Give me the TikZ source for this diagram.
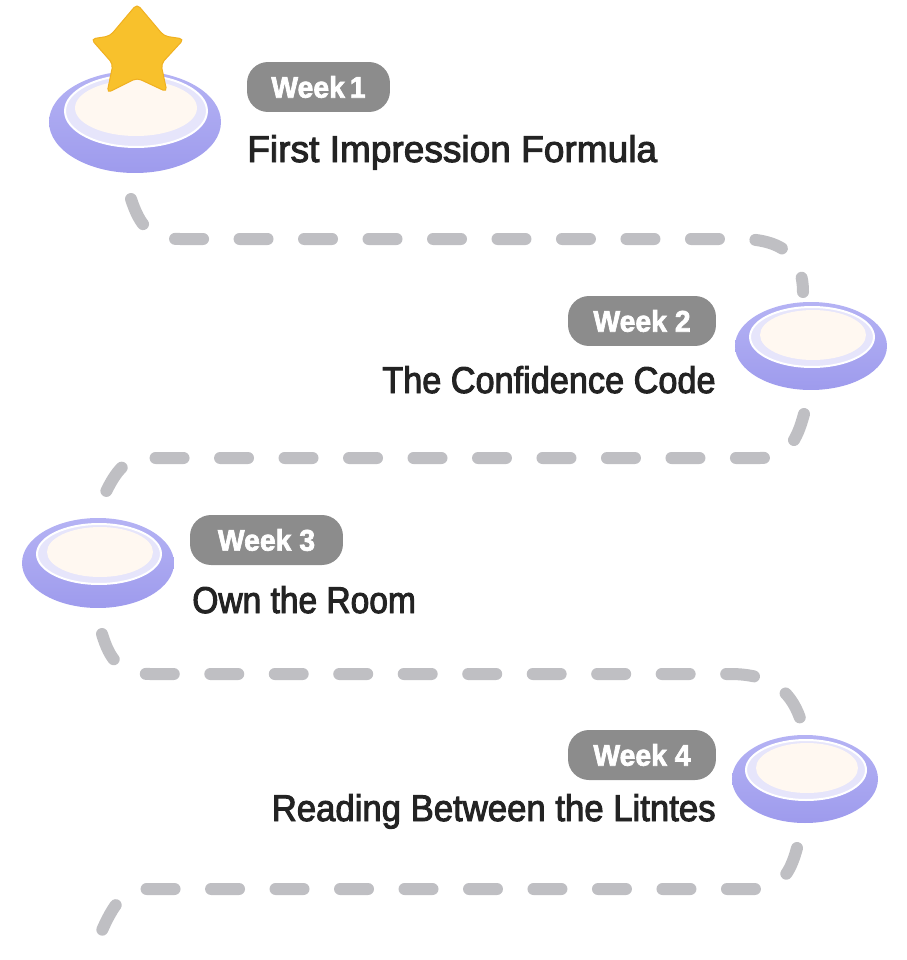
\documentclass[tikz,border=0pt]{standalone}
\usepackage{fontspec}
\setmainfont{Liberation Sans}
\usetikzlibrary{shapes.geometric}
\definecolor{discTop}{HTML}{B5B3F4}
\definecolor{discBot}{HTML}{9E9BED}
\definecolor{ringc}{HTML}{E6E5FB}
\definecolor{creamc}{HTML}{FFF8F1}
\definecolor{pillc}{HTML}{8C8C8C}
\definecolor{titlec}{HTML}{232323}
\definecolor{dashc}{HTML}{BFBFC3}
\definecolor{starc}{HTML}{F8C12C}
\definecolor{stare}{HTML}{F0B020}
\begin{document}
\begin{tikzpicture}[x=0.02cm,y=-0.02cm,
  outerdisc/.style={ellipse, inner sep=0, draw=none, top color=discTop, bottom color=discBot},
  ringdisc/.style={ellipse, inner sep=0, fill=ringc, draw=white, line width=0.04cm},
  creamdisc/.style={ellipse, inner sep=0, fill=creamc},
  pill/.style={rounded corners=0.42cm, fill=pillc, text=white, font=\fontsize{17}{17}\selectfont\bfseries\addfontfeatures{FakeBold=2.2,FakeStretch=0.95}, minimum height=1cm, inner sep=0},
  titletext/.style={text=titlec, inner sep=0},
  trail/.style={draw=dashc, line width=0.24cm, line cap=round, dash pattern=on 0.56cm off 0.73cm}
]
\newcommand{\ttlfont}[1]{\fontsize{21.2}{21.2}\selectfont\addfontfeatures{FakeBold=2.6,FakeStretch=#1}}
\useasboundingbox (0,0) rectangle (906,960);

% ---------- trails ----------
\coordinate (a1) at (131,199);
\coordinate (a2) at (180,239);
\coordinate (a3) at (740,239);
\coordinate (a4) at (803,292);
\draw[trail] (a1) .. controls (140,226) and (150,239) .. (a2) -- (a3) .. controls (788,239) and (803,262) .. (a4);

\coordinate (b1) at (804,414);
\coordinate (b2) at (760,458);
\coordinate (b3) at (145,458);
\coordinate (b4) at (100,505);
\draw[trail] (b1) .. controls (797,440) and (788,458) .. (b2) -- (b3) .. controls (125,458) and (114,472) .. (b4);

\coordinate (c1) at (102,634);
\coordinate (c2) at (150,674);
\coordinate (c3) at (730,674);
\coordinate (c4) at (800,718);
\draw[trail] (c1) .. controls (110,660) and (120,674) .. (c2) -- (c3) .. controls (770,674) and (790,690) .. (c4);

\coordinate (e1) at (797,848);
\coordinate (e2) at (755,889);
\coordinate (e3) at (145,889);
\coordinate (e4) at (100,935);
\draw[trail] (e1) .. controls (790,874) and (780,889) .. (e2) -- (e3) .. controls (125,889) and (114,902) .. (e4);

% ---------- discs ----------
\node[outerdisc, minimum width=3.44cm, minimum height=2.04cm] (d1) at (135,122) {};
\node[ringdisc, minimum width=2.84cm, minimum height=1.44cm] (d1r) at (136,111) {};
\node[creamdisc, minimum width=2.44cm, minimum height=1.12cm] (d1c) at (136,108) {};

\node[outerdisc, minimum width=3.04cm, minimum height=1.76cm] (d2) at (811,346) {};
\node[ringdisc, minimum width=2.48cm, minimum height=1.2cm] (d2r) at (812,337) {};
\node[creamdisc, minimum width=2.12cm, minimum height=1.0cm] (d2c) at (813,335) {};

\node[outerdisc, minimum width=3.04cm, minimum height=1.8cm] (d3) at (98,563) {};
\node[ringdisc, minimum width=2.48cm, minimum height=1.2cm] (d3r) at (99,554) {};
\node[creamdisc, minimum width=2.12cm, minimum height=1.0cm] (d3c) at (100,552) {};

\node[outerdisc, minimum width=2.92cm, minimum height=1.76cm] (d4) at (805,779) {};
\node[ringdisc, minimum width=2.4cm, minimum height=1.2cm] (d4r) at (806,770) {};
\node[creamdisc, minimum width=2.04cm, minimum height=1.0cm] (d4c) at (807,768) {};

% ---------- star ----------
\filldraw[fill=starc, draw=stare, line width=0.02cm, rounded corners=0.09cm]
  (137,4) -- (164,36) -- (184,39) -- (161,64) -- (167,92) -- (137,78)
  -- (107,93) -- (113,64) -- (91,39) -- (110,36) -- cycle;

% ---------- labels ----------
\node[pill, minimum width=2.86cm] (w1) at (318.5,87) {Week\,1};
\node[titletext, anchor=base west, font=\ttlfont{0.995}] (t1) at (247,162) {First Impression Formula};

\node[pill, minimum width=2.96cm] (w2) at (642,321) {Week 2};
\node[titletext, anchor=base east, font=\ttlfont{0.92}] (t2) at (716,393) {The Confidence Code};

\node[pill, minimum width=3.06cm] (w3) at (266.5,540) {Week 3};
\node[titletext, anchor=base west, font=\ttlfont{0.9}] (t3) at (192,613) {Own the Room};

\node[pill, minimum width=2.96cm] (w4) at (642,755) {Week 4};
\node[titletext, anchor=base east, font=\ttlfont{0.932}] (t4) at (716,821) {Reading Between the Litntes};
\end{tikzpicture}
\end{document}
